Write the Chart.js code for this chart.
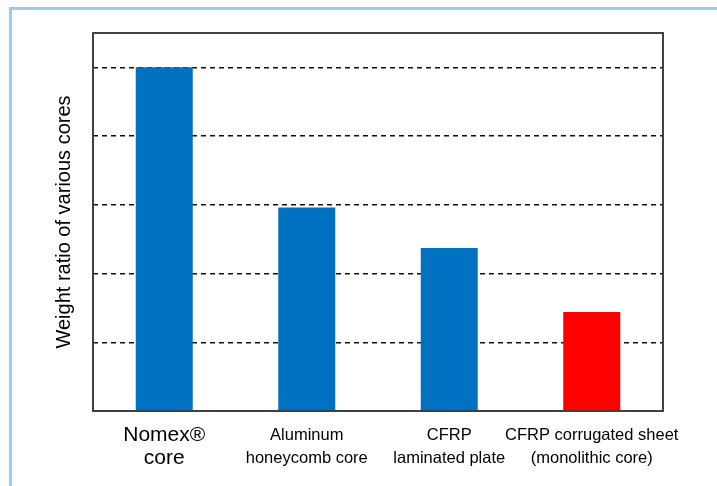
<!DOCTYPE html>
<html>
<head>
<meta charset="utf-8">
<script src="https://cdn.jsdelivr.net/npm/chart.js@4.4.1/dist/chart.umd.min.js"></script>
<style>
    html, body { margin: 0; padding: 0; background: #fff; }
    #wrap { position: relative; width: 717px; height: 486px; overflow: hidden; }
    #frame {
        position: absolute; left: 9px; top: 7px; right: -10px; bottom: -10px;
        border-top: 3px solid #9dc9f5; border-left: 3px solid #9dc9f5;
    }
    canvas { position: absolute; left: 0; top: 0; }
</style>
</head>
<body>
<div id="wrap">
    <div id="frame"></div>
    <canvas id="coreChart" width="717" height="486"></canvas>
</div>
<script>
// Weight ratio of the core types
const categories = [
    ['Nomex\u00AE', 'core'],
    ['Aluminum', 'honeycomb core'],
    ['CFRP', 'laminated plate'],
    ['CFRP corrugated sheet', '(monolithic core)']
];
const weightRatio = [5.0, 2.96, 2.37, 1.44];
const barColors = ['#0070C0', '#0070C0', '#0070C0', '#FF0000'];

// frame round the plot area (top and right sides included)
const plotFrame = {
    id: 'plotFrame',
    afterDraw(chart) {
        const { ctx, chartArea: a } = chart;
        ctx.save();
        ctx.strokeStyle = '#404040';
        ctx.lineWidth = 2;
        ctx.strokeRect(a.left, a.top, a.right - a.left, a.bottom - a.top);
        ctx.restore();
    }
};

document.addEventListener('DOMContentLoaded', function() {
    const ctx = document.getElementById('coreChart').getContext('2d');

    new Chart(ctx, {
        type: 'bar',
        data: {
            labels: categories,
            datasets: [{
                data: weightRatio,
                backgroundColor: barColors,
                borderWidth: 0,
                barPercentage: 0.4,
                categoryPercentage: 1.0
            }]
        },
        plugins: [plotFrame],
        options: {
            responsive: false,
            animation: false,
            layout: { padding: { top: 33, right: 54, left: 0, bottom: 0 } },
            plugins: {
                legend: { display: false },
                tooltip: { enabled: false }
            },
            scales: {
                x: {
                    grid: { display: false, drawTicks: false },
                    border: { display: false },
                    ticks: {
                        color: '#000',
                        padding: 12,
                        maxRotation: 0,
                        autoSkip: false,
                        font: c => c.index === 0
                            ? { family: 'Liberation Sans, Arial, sans-serif', size: 21, lineHeight: 1.12 }
                            : { family: 'Liberation Sans, Arial, sans-serif', size: 16.5, lineHeight: 1.45 }
                    },
                    afterFit: scale => { scale.height = 75; }
                },
                y: {
                    min: 0,
                    max: 5.5,
                    ticks: { display: false, stepSize: 1 },
                    grid: {
                        color: '#111',
                        lineWidth: 1.4,
                        drawTicks: false
                    },
                    border: { display: false, dash: [5, 4] },
                    title: {
                        display: true,
                        text: 'Weight ratio of various cores',
                        color: '#000',
                        font: { family: 'Liberation Sans, Arial, sans-serif', size: 20 },
                        padding: { top: 52, bottom: 0 }
                    },
                    afterFit: scale => { scale.width = 93; }
                }
            }
        }
    });
});
</script>
</body>
</html>
